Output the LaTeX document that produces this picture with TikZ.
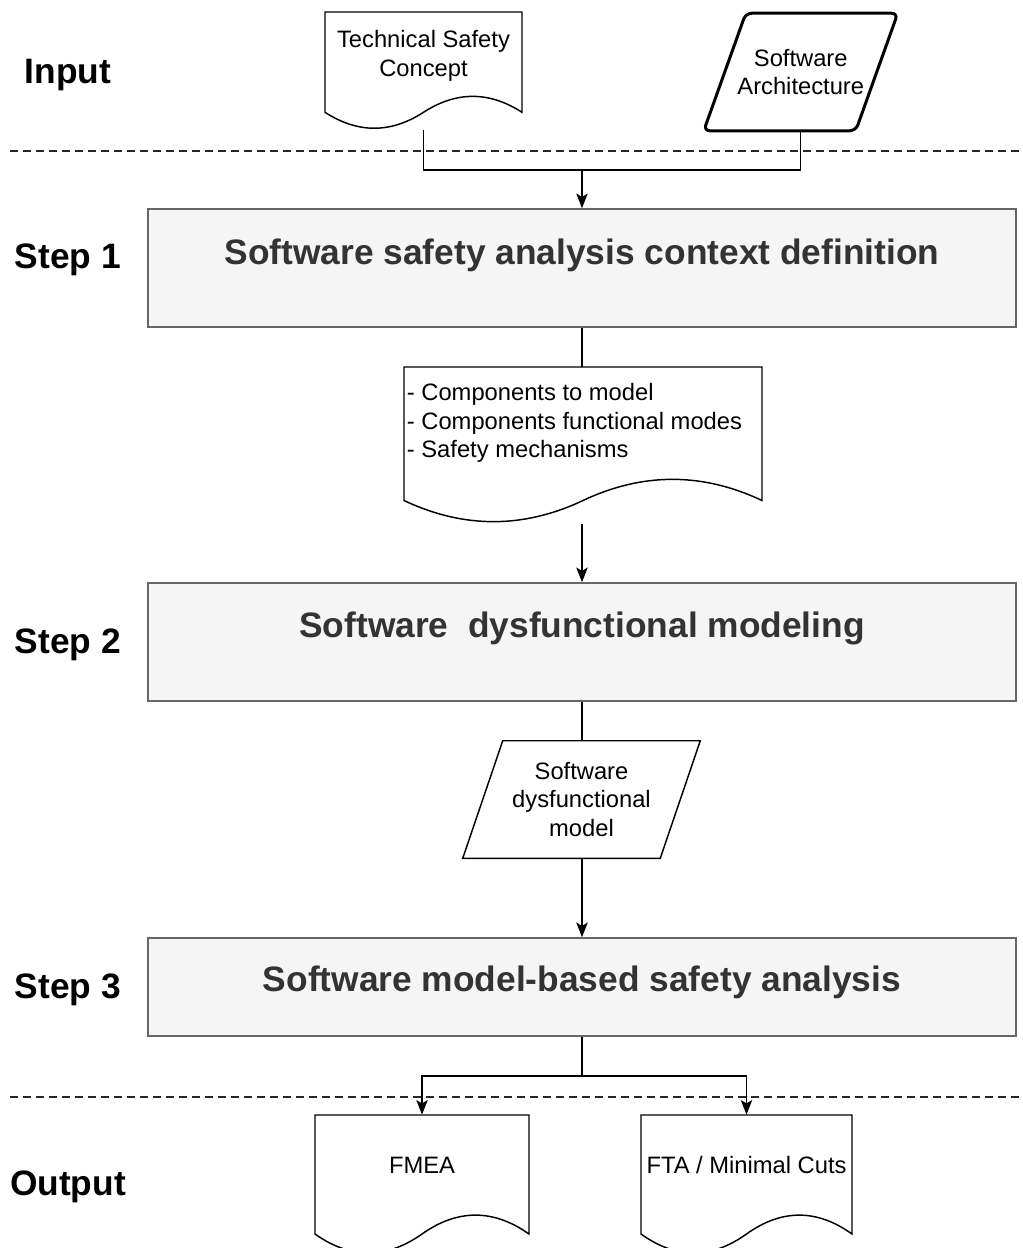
\documentclass[tikz,border=0pt]{standalone}
\usepackage{fontspec}
\setmainfont{Liberation Sans}
\usetikzlibrary{arrows.meta,calc}
\definecolor{boxfill}{HTML}{F5F5F5}
\definecolor{boxline}{HTML}{666666}
\definecolor{titletext}{HTML}{333333}
% document shape: x1, y1 (top), x2, h (bottom of bounding box), dy (wave size)
\newcommand{\docshape}[5]{%
  \draw[docline] (#1,#2) -- (#3,#2) -- (#3,{#4-0.5*#5})
    .. controls ({#3-(#3-#1)/6},{#4-1.1*#5}) and ({(#1+#3)/2+(#3-#1)/6},{#4-1.1*#5}) .. ({(#1+#3)/2},{#4-0.5*#5})
    .. controls ({(#1+#3)/2-(#3-#1)/6},{#4+0.1*#5}) and ({#1+(#3-#1)/6},{#4+0.1*#5}) .. (#1,{#4-0.5*#5})
    -- cycle;}
\begin{document}
\begin{tikzpicture}[x=0.75pt,y=-0.75pt,
  conn/.style={line width=1.1pt, draw=black},
  arr/.style={conn, -{Stealth[length=11pt,width=8.5pt,inset=2.5pt]}},
  stepbox/.style={draw=boxline, fill=boxfill, line width=1.1pt, inner sep=0pt, minimum width=651pt},
  titletxt/.style={font=\fontsize{26.5pt}{32pt}\selectfont\bfseries, text=titletext},
  steplabel/.style={font=\fontsize{26.5pt}{32pt}\selectfont\bfseries},
  txt/.style={font=\fontsize{17.8pt}{21.5pt}\selectfont, align=center},
  frame/.style={draw=none, inner sep=0pt},
  docline/.style={line width=1.1pt},
  dashsep/.style={line width=0.8pt, dash pattern=on 6pt off 3.75pt, black!85}]

\useasboundingbox (0,0) rectangle (1023,1248);
\clip (0,0) rectangle (1023,1248);
\fill[white] (0,0) rectangle (1023,1248);

% separators
\coordinate (da1) at (10,151);
\coordinate (da2) at (1023,151);
\coordinate (db1) at (10,1097);
\coordinate (db2) at (1023,1097);
\draw[dashsep] (da1) -- (da2);
\draw[dashsep] (db1) -- (db2);

% row labels
\node[steplabel] (lin) at (68,75) {Input};
\node[steplabel] (l1) at (68,260) {Step 1};
\node[steplabel] (l2) at (68,645) {Step 2};
\node[steplabel] (l3) at (68,990) {Step 3};
\node[steplabel] (lout) at (68,1187) {Output};

% inputs
\node[frame, minimum width=147.75pt, minimum height=88.5pt] (tsc) at (423.5,71) {};
\docshape{325}{12}{522}{130}{35.4}
\node[txt] (tsct) at (423.5,56) {Technical Safety\\Concept};

\node[frame, txt, minimum width=145.1pt, minimum height=87.75pt] (sa) at (800.75,72) {Software\\Architecture};
\draw[line width=2.25pt, rounded corners=4.5pt, line join=round]
  ($(sa.north west)+(42,0)$) -- (sa.north east) -- ($(sa.south east)-(42,0)$) -- (sa.south west) -- cycle;

% step 1
\node[stepbox, minimum height=88.5pt] (b1) at (582,268) {};
\node[titletxt] (b1t) at (582,255) {Software safety analysis context definition};

% intermediate document
\node[frame, minimum width=268.5pt, minimum height=117.75pt] (d2) at (583,445.5) {};
\docshape{404}{367}{762}{524}{47}
\node[txt, align=left, anchor=west, inner sep=2pt] (d2t) at (404,423)
  {- Components to model\\- Components functional modes\\- Safety mechanisms};

% step 2
\node[stepbox, minimum height=88.5pt] (b2) at (582,642) {};
\node[titletxt] (b2t) at (582,628) {Software~ dysfunctional modeling};

% dysfunctional model
\node[frame, txt, minimum width=177.75pt, minimum height=87.75pt] (p2) at (581.5,799.5) {Software\\dysfunctional\\model};
\draw[docline] ($(p2.north west)+(40,0)$) -- (p2.north east) -- ($(p2.south east)-(40,0)$) -- (p2.south west) -- cycle;

% step 3
\node[stepbox, minimum height=73.5pt] (b3) at (582,987) {};
\node[titletxt] (b3t) at (582,982) {Software model-based safety analysis};

% outputs
\node[frame, minimum width=160.5pt, minimum height=105pt] (fmea) at (422,1185) {};
\docshape{315}{1115}{529}{1255}{42}
\node[txt] (fmeat) at (422,1165) {FMEA};

\node[frame, minimum width=158.25pt, minimum height=105pt] (fta) at (746.5,1185) {};
\docshape{641}{1115}{852}{1255}{42}
\node[txt] (ftat) at (746.5,1165) {FTA / Minimal Cuts};

% connectors
\coordinate (j1) at (582,170);
\coordinate (j2) at (582,1076);
\draw[conn] (tsc.south) -- (tsc.south |- j1) -- (sa.south |- j1) -- (sa.south);
\draw[arr] (j1) -- (b1.north);
\draw[conn] (b1.south) -- (b1.south |- d2.north);
\draw[arr] (d2.south -| b2.north) -- (b2.north);
\draw[conn] (b2.south) -- (b2.south |- p2.north);
\draw[arr] (p2.south -| b3.north) -- (b3.north);
\draw[conn] (b3.south) -- (j2);
\draw[arr] (j2) -| (fmea.north);
\draw[arr] (j2) -| (fta.north);
\end{tikzpicture}
\end{document}
